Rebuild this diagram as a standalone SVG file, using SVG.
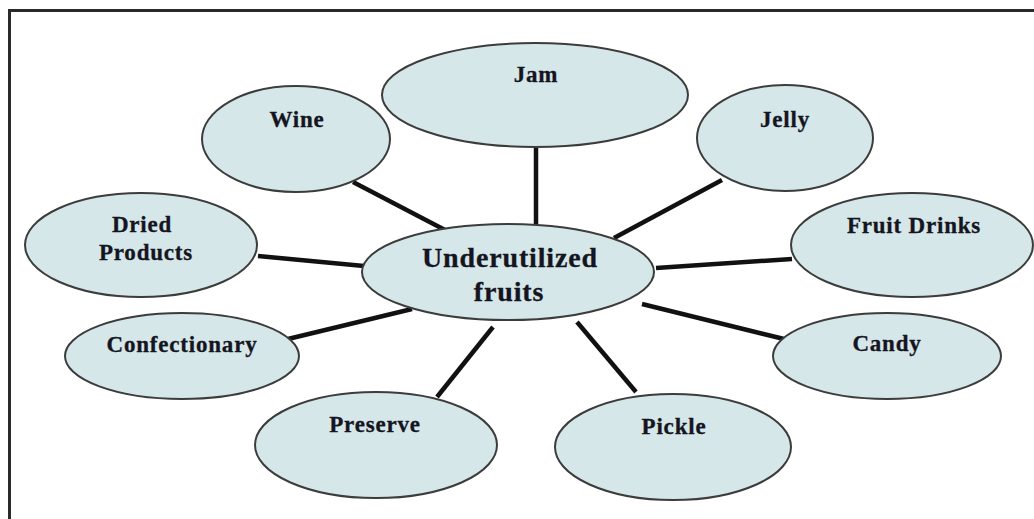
<svg xmlns="http://www.w3.org/2000/svg" width="1034" height="519" viewBox="0 0 1034 519">
  <style>
    .bubble { fill: #d5e7e9; stroke: #3c3c3c; stroke-width: 2; }
    .label { font-family: "Liberation Serif", "Times New Roman", serif; font-weight: bold; font-size: 23px; letter-spacing: 0.8px; fill: #15151f; stroke: #15151f; stroke-width: 0.3; text-anchor: middle; }
    .hub { font-size: 28px; letter-spacing: 0.85px; }
    .link { stroke: #111; stroke-width: 4.5; stroke-linecap: butt; }
  </style>
  <rect width="1034" height="519" fill="#ffffff"/>
  <!-- frame -->
  <path d="M9.5 519 V10.5 H1034" fill="none" stroke="#2a2a2a" stroke-width="3"/>

  <g id="connectors">
    <line class="link" x1="353" y1="182" x2="445" y2="230"/>
    <line class="link" x1="536" y1="148" x2="536" y2="224"/>
    <line class="link" x1="722" y1="180" x2="614" y2="238"/>
    <line class="link" x1="258" y1="256" x2="364" y2="266"/>
    <line class="link" x1="656" y1="268" x2="792" y2="259"/>
    <line class="link" x1="288" y1="339" x2="412" y2="309"/>
    <line class="link" x1="437" y1="397" x2="493" y2="327"/>
    <line class="link" x1="577" y1="322" x2="636" y2="392"/>
    <line class="link" x1="642" y1="304" x2="784" y2="339"/>
  </g>

  <g id="node-jam">
    <ellipse class="bubble" cx="535" cy="95" rx="153" ry="52"/>
    <text class="label" x="536" y="82">Jam</text>
  </g>
  <g id="node-wine">
    <ellipse class="bubble" cx="296" cy="139" rx="94" ry="53"/>
    <text class="label" x="297" y="127">Wine</text>
  </g>
  <g id="node-jelly">
    <ellipse class="bubble" cx="785" cy="138" rx="88" ry="53"/>
    <text class="label" x="785" y="127">Jelly</text>
  </g>
  <g id="node-dried">
    <ellipse class="bubble" cx="141" cy="245" rx="116" ry="52"/>
    <text class="label" x="142" y="232">Dried</text>
    <text class="label" x="146" y="260">Products</text>
  </g>
  <g id="node-fruit-drinks">
    <ellipse class="bubble" cx="912" cy="245" rx="121" ry="52"/>
    <text class="label" x="914" y="233">Fruit Drinks</text>
  </g>
  <g id="node-center">
    <ellipse class="bubble" cx="508" cy="272" rx="146" ry="48"/>
    <text class="label hub" x="510" y="267">Underutilized</text>
    <text class="label hub" x="509" y="301">fruits</text>
  </g>
  <g id="node-confectionary">
    <ellipse class="bubble" cx="182" cy="356" rx="117" ry="43"/>
    <text class="label" x="182" y="352">Confectionary</text>
  </g>
  <g id="node-candy">
    <ellipse class="bubble" cx="887" cy="356" rx="114" ry="43"/>
    <text class="label" x="887" y="351">Candy</text>
  </g>
  <g id="node-preserve">
    <ellipse class="bubble" cx="376" cy="445" rx="121" ry="53"/>
    <text class="label" x="375" y="432">Preserve</text>
  </g>
  <g id="node-pickle">
    <ellipse class="bubble" cx="673" cy="447" rx="118" ry="53"/>
    <text class="label" x="674" y="434">Pickle</text>
  </g>
</svg>
